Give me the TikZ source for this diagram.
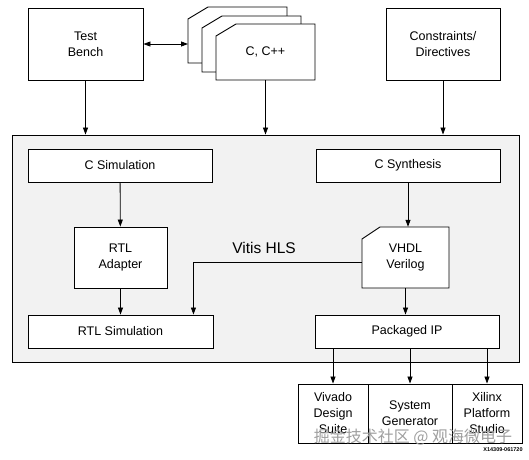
\documentclass[tikz,border=0pt]{standalone}
\usepackage{fontspec}
\setmainfont{Liberation Sans}
\newfontfamily\cjkfont{Noto Sans CJK SC}
\usetikzlibrary{arrows.meta, positioning, calc}
\definecolor{hlsgray}{HTML}{F2F2F2}

\begin{document}
\begin{tikzpicture}[
  x=1pt, y=-1pt,
  box/.style={draw, fill=white, line width=0.9pt, align=center, inner sep=0pt,
              font=\fontsize{12.5}{16}\selectfont},
  txt/.style={align=center, inner sep=0pt, font=\fontsize{12.5}{16}\selectfont},
  sheet/.style={draw, fill=white, line width=0.9pt},
  arrow/.style={-{Triangle[length=7pt, width=5pt]}, line width=0.8pt},
  darrow/.style={{Triangle[length=7pt, width=5pt]}-{Triangle[length=7pt, width=5pt]}, line width=0.8pt},
]
\useasboundingbox (0,0) rectangle (529,459);

%% Inputs
\node[box, minimum width=115, minimum height=72] (bench) at (85.5,44) {Test\\Bench};
\foreach \d/\e in {28/17, 14/8, 0/0}
  \draw[sheet] (216-\d,80-\e) -- (216-\d,36-\e) -- (236-\d,24-\e)
               -- (315-\d,24-\e) -- (315-\d,80-\e) -- cycle;
\node[txt, minimum width=99, minimum height=56] (src) at (265.5,52) {C, C++};
\coordinate (srcback) at (188,44);
\node[box, minimum width=114, minimum height=72] (cons) at (443,44) {Constraints/\\Directives};

%% Vitis HLS
\node[draw, fill=hlsgray, line width=0.9pt, minimum width=507, minimum height=227,
      inner sep=0pt] (hls) at (265.5,248.5) {};
\node[font=\fontsize{15.5}{18}\selectfont] (hlslabel) at (264,248) {Vitis HLS};

\node[box, minimum width=184, minimum height=33] (csim)   at (120,165.5) {C Simulation};
\node[box, minimum width=184, minimum height=33] (csynth) at (408,165.5) {C Synthesis};
\node[box, minimum width=93,  minimum height=61] (adapt)  at (120.5,257.5) {RTL\\Adapter};
\draw[sheet] (362,288) -- (362,239) -- (380,227) -- (449,227) -- (449,288) -- cycle;
\node[txt, minimum width=87, minimum height=61] (hdl) at (405.5,257.5) {VHDL\\Verilog};
\node[box, minimum width=185, minimum height=33] (rtlsim) at (120.5,331.5) {RTL Simulation};
\node[box, minimum width=184, minimum height=33] (pkg)    at (407,331.5) {Packaged IP};

%% Targets
\node[box, minimum width=70, minimum height=59] (vivado) at (333,413.5) {Vivado\\Design\\Suite};
\node[box, minimum width=84, minimum height=59] (sysgen) at (410,413.5) {System\\Generator};
\node[box, minimum width=70, minimum height=59] (xps)    at (487,413.5) {Xilinx\\Platform\\Studio};

\node[font=\fontsize{5.5}{6}\selectfont\bfseries] (figid) at (503,450) {X14309-061720};
\node[font=\cjkfont\fontsize{16}{16}\selectfont, text=gray!75] (mark) at (413,437)
  {掘金技术社区 @ 观海微电子};

%% Arrows
\draw[darrow] (bench) -- (srcback);
\draw[arrow] (bench) -- (bench |- hls.north);
\draw[arrow] (src) -- (src |- hls.north);
\draw[arrow] (cons) -- (cons |- hls.north);
\draw[arrow] (csim) -- (adapt);
\draw[arrow] (adapt) -- (rtlsim);
\draw[arrow] (csynth) -- (csynth |- hdl.north);
\draw[arrow] (hdl.south) -- (hdl.south |- pkg.north);
\draw[arrow] ($(hdl.west)+(0,5)$) -| ($(rtlsim.north east)+(-20,0)$);
\draw[arrow] (pkg.south -| vivado) -- (vivado);
\draw[arrow] (pkg.south -| sysgen) -- (sysgen);
\draw[arrow] (pkg.south -| xps) -- (xps);

\end{tikzpicture}
\end{document}
